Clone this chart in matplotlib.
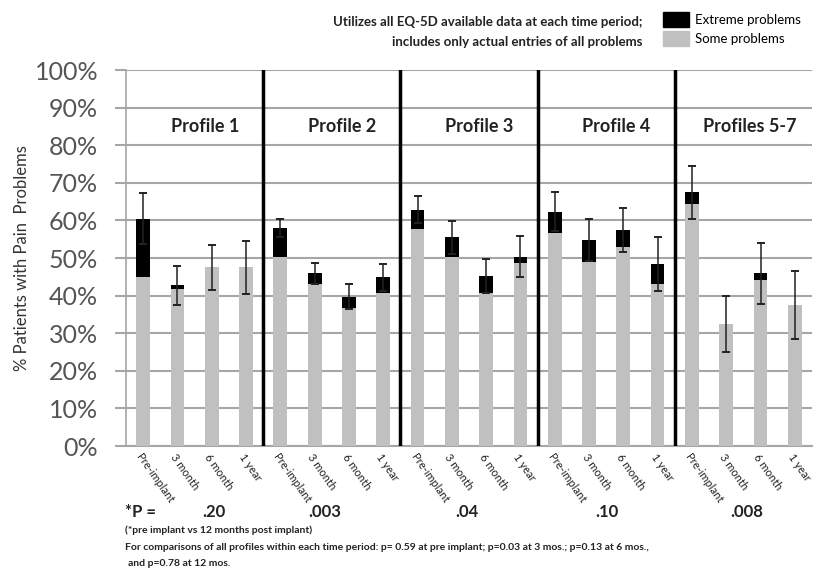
import numpy as np
import matplotlib.pyplot as plt
from matplotlib.patches import Patch

plt.rcParams['font.family'] = ['Lato', 'DejaVu Sans']

profiles = ["Profile 1", "Profile 2", "Profile 3", "Profile 4", "Profiles 5-7"]
periods = ["Pre-implant", "3 month", "6 month", "1 year"]

# % with some problems (gray), extreme problems (black), error (+/-) on total
some = [45.0, 41.8, 47.5, 47.5,
        50.2, 43.1, 36.6, 40.8,
        57.6, 50.4, 40.8, 48.6,
        56.7, 49.0, 53.0, 43.1,
        64.4, 32.4, 44.1, 37.5]
extreme = [15.5, 1.0, 0.0, 0.0,
           7.9, 2.8, 3.1, 4.1,
           5.3, 5.1, 4.4, 1.8,
           5.6, 5.8, 4.4, 5.3,
           3.1, 0.0, 1.8, 0.0]
err = [6.7, 5.2, 5.9, 7.1,
       2.4, 2.9, 3.3, 3.6,
       3.7, 4.3, 4.5, 5.5,
       5.2, 5.7, 5.8, 7.3,
       7.0, 7.5, 8.0, 9.0]
pvals = [".20", ".003", ".04", ".10", ".008"]

some = np.array(some)
extreme = np.array(extreme)
total = some + extreme
x = np.arange(len(some))
labels = periods * len(profiles)

fig = plt.figure(figsize=(8.22, 5.73), dpi=100)
ax = fig.add_axes([0.1533, 0.2216, 0.8345, 0.6562])

ax.bar(x, some, width=0.4, color="#c0c0c0", zorder=3)
ax.bar(x, extreme, width=0.4, bottom=some, color="black", zorder=3)
ax.errorbar(x, total, yerr=err, fmt="none", ecolor="#222222", elinewidth=1.1,
            capsize=3, capthick=1.4, zorder=4)

for s in [3.5, 7.5, 11.5, 15.5]:
    ax.axvline(s, color="black", lw=2.5, zorder=5)
for i, name in enumerate(profiles):
    ax.text(4 * i + 1.5 + (0.3 if i < 4 else 0.2), 85, name, ha="center", va="center",
            fontsize=13, fontweight="bold", color="#222222")

ax.set_xlim(-0.5, 19.5)
ax.set_ylim(0, 100)
ax.set_yticks(np.arange(0, 101, 10))
ax.set_yticklabels([f"{v}%" for v in range(0, 101, 10)], fontsize=18, color="#555555")
ax.yaxis.grid(True, color="#a6a6a6", lw=1.5, zorder=0)
ax.tick_params(axis="y", length=8, width=1.5, color="#a6a6a6", pad=12)
ax.set_xticks(x)
ax.set_xticklabels(labels, rotation=-55, ha="left", va="top", rotation_mode="anchor",
                   fontsize=8, color="#222222")
ax.tick_params(axis="x", length=0, pad=4)
for sp in ["top", "right"]:
    ax.spines[sp].set_visible(False)
ax.spines["left"].set_color("#a6a6a6")
ax.spines["bottom"].set_color("#a6a6a6")
ax.spines["left"].set_linewidth(1.2)
ax.spines["bottom"].set_linewidth(1.5)
ax.set_ylabel("% Patients with Pain  Problems", fontsize=12, color="#333333", labelpad=8)
ax.yaxis.set_label_coords(-0.14, 0.5)

# legend and note
handles = [Patch(color="black"), Patch(color="#c0c0c0")]
fig.legend(handles, ["Extreme problems", "Some problems"], loc="upper left",
           bbox_to_anchor=(0.792, 1.0), frameon=False, fontsize=9.5,
           handlelength=2.0, handleheight=1.4, handletextpad=0.4, labelspacing=0.3)
fig.text(0.782, 0.962, "Utilizes all EQ-5D available data at each time period;",
         ha="right", va="center", fontsize=9.5, fontweight="bold", color="#222222")
fig.text(0.782, 0.927, "includes only actual entries of all problems",
         ha="right", va="center", fontsize=9.5, fontweight="bold", color="#222222")

# p values below
fig.text(0.152, 0.107, "*P =", fontsize=12, fontweight="bold", va="center", color="#222222")
for xp, p in zip([214, 325, 467, 607, 747], pvals):
    fig.text(xp / 822, 0.107, p, fontsize=12, fontweight="bold", ha="center",
             va="center", color="#222222")
fig.text(0.152, 0.075, "(*pre implant vs 12 months post implant)", fontsize=7.5,
         fontweight="bold", va="center", color="#222222")
fig.text(0.152, 0.045, "For comparisons of all profiles within each time period: p= 0.59 at pre implant; "
         "p=0.03 at 3 mos.; p=0.13 at 6 mos.,", fontsize=7.5, fontweight="bold",
         va="center", color="#222222")
fig.text(0.156, 0.017, "and p=0.78 at 12 mos.", fontsize=7.5, fontweight="bold",
         va="center", color="#222222")

fig.savefig("out.png", dpi=100)
